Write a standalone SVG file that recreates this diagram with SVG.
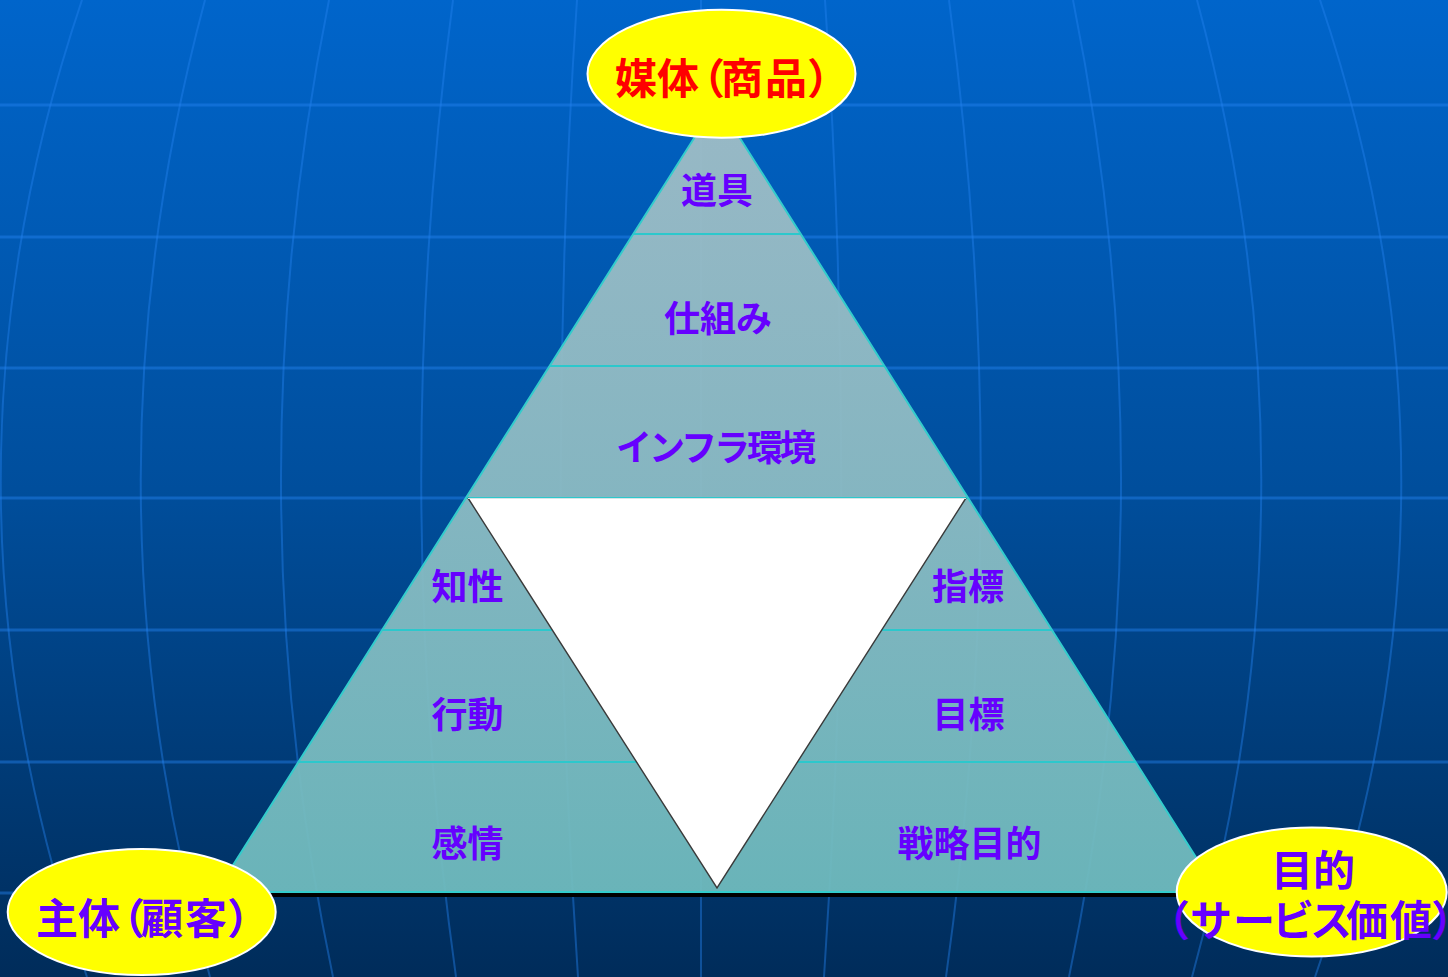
<svg xmlns="http://www.w3.org/2000/svg" width="1448" height="977" viewBox="0 0 1448 977">
  <defs>
    <linearGradient id="bg" x1="0" y1="0" x2="0" y2="1">
      <stop offset="0" stop-color="#0065CB"/>
      <stop offset="0.5" stop-color="#004E9C"/>
      <stop offset="1" stop-color="#002C5A"/>
    </linearGradient>
    <linearGradient id="tri" gradientUnits="userSpaceOnUse" x1="0" y1="100" x2="0" y2="892">
      <stop offset="0" stop-color="#A2BEC6"/>
      <stop offset="0.5" stop-color="#8DBCC3"/>
      <stop offset="1" stop-color="#70BCBE"/>
    </linearGradient>
    <style>
      .hl { stroke: #2483F0; stroke-opacity: 0.45; stroke-width: 3; fill: none; }
      .ml { stroke: #2483F0; stroke-opacity: 0.42; stroke-width: 2; fill: none; }
      .band { stroke: #2CC8CC; stroke-width: 2; fill: none; }
      .lbl { font-family: "Noto Sans CJK JP", "Noto Sans CJK SC", sans-serif; font-weight: 700; font-size: 36px; fill: #6600FF; text-anchor: middle; }
      .oval { fill: #FFFF00; stroke: #FFFFFF; stroke-width: 2; }
      .otxt { font-family: "Noto Sans CJK JP", "Noto Sans CJK SC", sans-serif; font-weight: 700; font-size: 42px; }
    </style>
  </defs>

  <g id="background">
    <rect x="0" y="0" width="1448" height="977" fill="url(#bg)"/>
    <g id="grid-horizontal">
      <line class="hl" x1="0" y1="105" x2="1448" y2="105"/>
      <line class="hl" x1="0" y1="237" x2="1448" y2="237"/>
      <line class="hl" x1="0" y1="368" x2="1448" y2="368"/>
      <line class="hl" x1="0" y1="498" x2="1448" y2="498"/>
      <line class="hl" x1="0" y1="630" x2="1448" y2="630"/>
      <line class="hl" x1="0" y1="762" x2="1448" y2="762"/>
      <line class="hl" x1="0" y1="893" x2="1448" y2="893"/>
    </g>
    <g id="grid-meridians">
      <path class="ml" d="M701,0 L701,977"/>
      <path class="ml" d="M825,0 Q858,488.5 824,977"/>
      <path class="ml" d="M949,0 Q1014,488.5 946,977"/>
      <path class="ml" d="M1073,0 Q1171,488.5 1069,977"/>
      <path class="ml" d="M1197,0 Q1328,488.5 1192,977"/>
      <path class="ml" d="M1320,0 Q1485,488.5 1315,977"/>
      <path class="ml" d="M577,0 Q544,488.5 578,977"/>
      <path class="ml" d="M453,0 Q388,488.5 456,977"/>
      <path class="ml" d="M329,0 Q231,488.5 333,977"/>
      <path class="ml" d="M205,0 Q74,488.5 210,977"/>
      <path class="ml" d="M82,0 Q-83,488.5 87,977"/>
    </g>
  </g>

  <g id="connectors"></g>

  <g id="pyramid">
    <rect x="216" y="893" width="1002" height="4" fill="#000000"/>
    <polygon points="717,102 1218,892 216,892" fill="url(#tri)" fill-opacity="0.94" stroke="#33CCCC" stroke-width="2"/>
    <line class="band" x1="633" y1="234" x2="801" y2="234"/>
    <line class="band" x1="549" y1="366" x2="885" y2="366"/>
    <line class="band" x1="466" y1="498" x2="968" y2="498"/>
    <line class="band" x1="382" y1="630" x2="552" y2="630"/>
    <line class="band" x1="882" y1="630" x2="1052" y2="630"/>
    <line class="band" x1="298" y1="762" x2="637" y2="762"/>
    <line class="band" x1="797" y1="762" x2="1136" y2="762"/>
  </g>

  <g id="center-triangle">
    <polygon points="468,498 966,498 717,888" fill="#FFFFFF"/>
    <polyline points="468,498 717,888 966,498" fill="none" stroke="#3A3A3A" stroke-width="1.4"/>
    <line x1="468" y1="498.5" x2="966" y2="498.5" stroke="#D8E4E6" stroke-width="1"/>
  </g>

  <g id="layer-tool"><text class="lbl" x="717" y="203.5">道具</text></g>
  <g id="layer-mechanism"><text class="lbl" x="718" y="331.5">仕組み</text></g>
  <g id="layer-infra"><text class="lbl" x="716" y="460.5" textLength="200" lengthAdjust="spacing">インフラ環境</text></g>
  <g id="layer-intellect"><text class="lbl" x="467.5" y="599.5">知性</text></g>
  <g id="layer-action"><text class="lbl" x="467.5" y="727.5">行動</text></g>
  <g id="layer-emotion"><text class="lbl" x="467.5" y="856.5">感情</text></g>
  <g id="layer-indicator"><text class="lbl" x="968" y="599.5">指標</text></g>
  <g id="layer-target"><text class="lbl" x="968.5" y="727.5">目標</text></g>
  <g id="layer-strategy"><text class="lbl" x="969.5" y="856.5">戦略目的</text></g>

  <g id="node-medium">
    <ellipse class="oval" cx="721.5" cy="73.7" rx="134" ry="64"/>
    <text class="otxt" fill="#FF0000" x="615 657 683 721 765 807" y="93.5">媒体（商品）</text>
  </g>

  <g id="node-subject">
    <ellipse class="oval" cx="141.7" cy="912" rx="134" ry="63"/>
    <text class="otxt" fill="#6600FF" x="36 78 103 141 185 227" y="933.5">主体（顧客）</text>
  </g>

  <g id="node-purpose">
    <ellipse class="oval" cx="1311.7" cy="892" rx="135" ry="64.5"/>
    <text class="otxt" fill="#6600FF" x="1313" y="886" text-anchor="middle">目的</text>
    <text class="otxt" fill="#6600FF" x="1148 1190 1233 1272 1310 1346 1390 1431" y="936">（サービス価値）</text>
  </g>
</svg>
